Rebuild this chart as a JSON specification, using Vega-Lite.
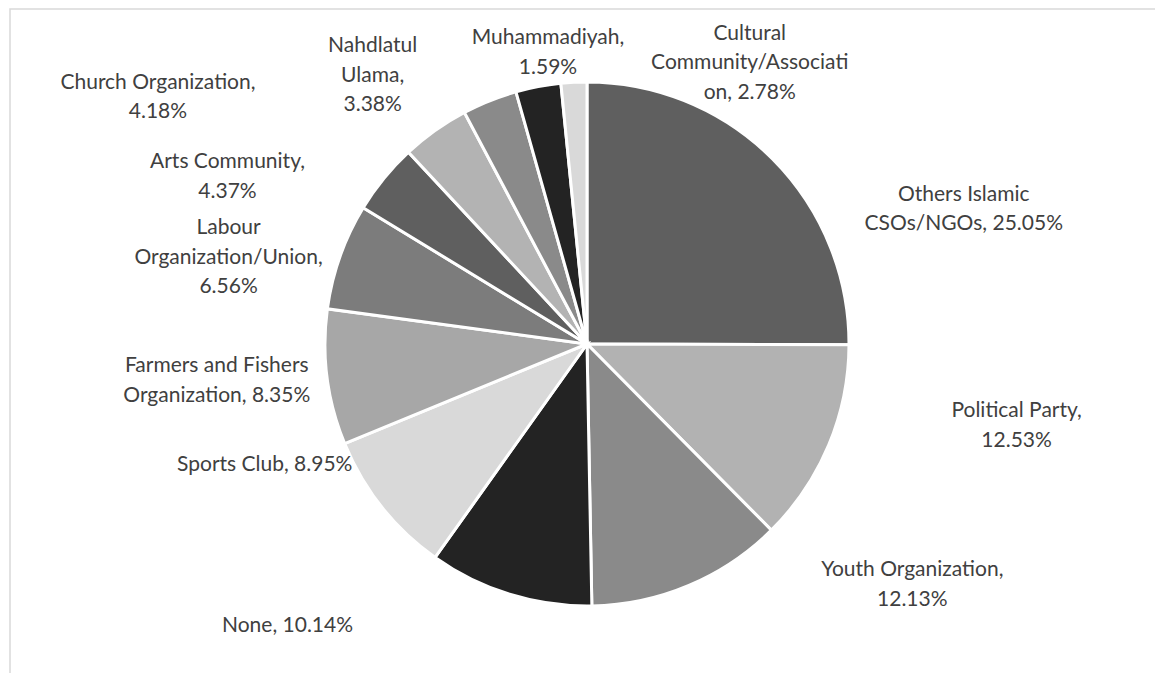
{
  "$schema": "https://vega.github.io/schema/vega-lite/v6.json",
  "autosize": {"type": "fit", "contains": "padding"},
  "width": 1155,
  "height": 673,
  "padding": {"left": 10, "top": 9, "right": -9, "bottom": -6},
  "background": "white",
  "view": {"stroke": "#d9d9d9", "strokeWidth": 1.5},
  "config": {"view": {"stroke": "#d9d9d9", "strokeWidth": 1.5}},
  "data": {
    "values": [
      {"category": "Others Islamic CSOs/NGOs", "share": 25.05, "label": "Others Islamic\nCSOs/NGOs, 25.05%"},
      {"category": "Political Party", "share": 12.53, "label": "Political Party,\n12.53%"},
      {"category": "Youth Organization", "share": 12.13, "label": "Youth Organization,\n12.13%"},
      {"category": "None", "share": 10.14, "label": "None, 10.14%"},
      {"category": "Sports Club", "share": 8.95, "label": "Sports Club, 8.95%"},
      {"category": "Farmers and Fishers Organization", "share": 8.35, "label": "Farmers and Fishers\nOrganization, 8.35%"},
      {"category": "Labour Organization/Union", "share": 6.56, "label": "Labour\nOrganization/Union,\n6.56%"},
      {"category": "Arts Community", "share": 4.37, "label": "Arts Community,\n4.37%"},
      {"category": "Church Organization", "share": 4.18, "label": "Church Organization,\n4.18%"},
      {"category": "Nahdlatul Ulama", "share": 3.38, "label": "Nahdlatul\nUlama,\n3.38%"},
      {"category": "Cultural Community/Association", "share": 2.78, "label": "Cultural\nCommunity/Associati\non, 2.78%"},
      {"category": "Muhammadiyah", "share": 1.59, "label": "Muhammadiyah,\n1.59%"}
    ]
  },
  "encoding": {
    "theta": {"field": "share", "type": "quantitative", "stack": true},
    "order": {"field": "share", "type": "quantitative", "sort": "descending"}
  },
  "layer": [
    {
      "mark": {"type": "arc", "outerRadius": 262, "stroke": "white", "strokeWidth": 3},
      "encoding": {
        "color": {
          "field": "category",
          "type": "nominal",
          "legend": null,
          "scale": {
            "domain": ["Others Islamic CSOs/NGOs", "Political Party", "Youth Organization", "None", "Sports Club", "Farmers and Fishers Organization", "Labour Organization/Union", "Arts Community", "Church Organization", "Nahdlatul Ulama", "Cultural Community/Association", "Muhammadiyah"],
            "range": ["#5f5f5f", "#b2b2b2", "#8a8a8a", "#232323", "#d9d9d9", "#a7a7a7", "#7c7c7c", "#5f5f5f", "#b3b3b3", "#8a8a8a", "#232323", "#d9d9d9"]
          }
        }
      }
    },
    {
      "mark": {
        "type": "text",
        "radius": 340,
        "font": "Lato",
        "fontSize": 21,
        "color": "#404040",
        "align": "center",
        "baseline": "middle",
        "lineBreak": "\n",
        "lineHeight": 29.5,
        "dx": {"expr": "({'Others Islamic CSOs/NGOs': 136, 'Political Party': 116, 'Youth Organization': 193, 'None': -199, 'Sports Club': -56, 'Farmers and Fishers Organization': -33, 'Labour Organization/Union': -38, 'Arts Community': -96, 'Church Organization': -232, 'Nahdlatul Ulama': -88, 'Cultural Community/Association': 226, 'Muhammadiyah': -22})[datum.category]"},
        "dy": {"expr": "({'Others Islamic CSOs/NGOs': 91, 'Political Party': -64, 'Youth Organization': -87, 'None': -43, 'Sports Club': -90, 'Farmers and Fishers Organization': -21, 'Labour Organization/Union': -2, 'Arts Community': 33, 'Church Organization': 16, 'Nahdlatul Ulama': 18, 'Cultural Community/Association': 24, 'Muhammadiyah': 34})[datum.category]"}
      },
      "encoding": {
        "text": {"field": "label", "type": "nominal"}
      }
    }
  ]
}
